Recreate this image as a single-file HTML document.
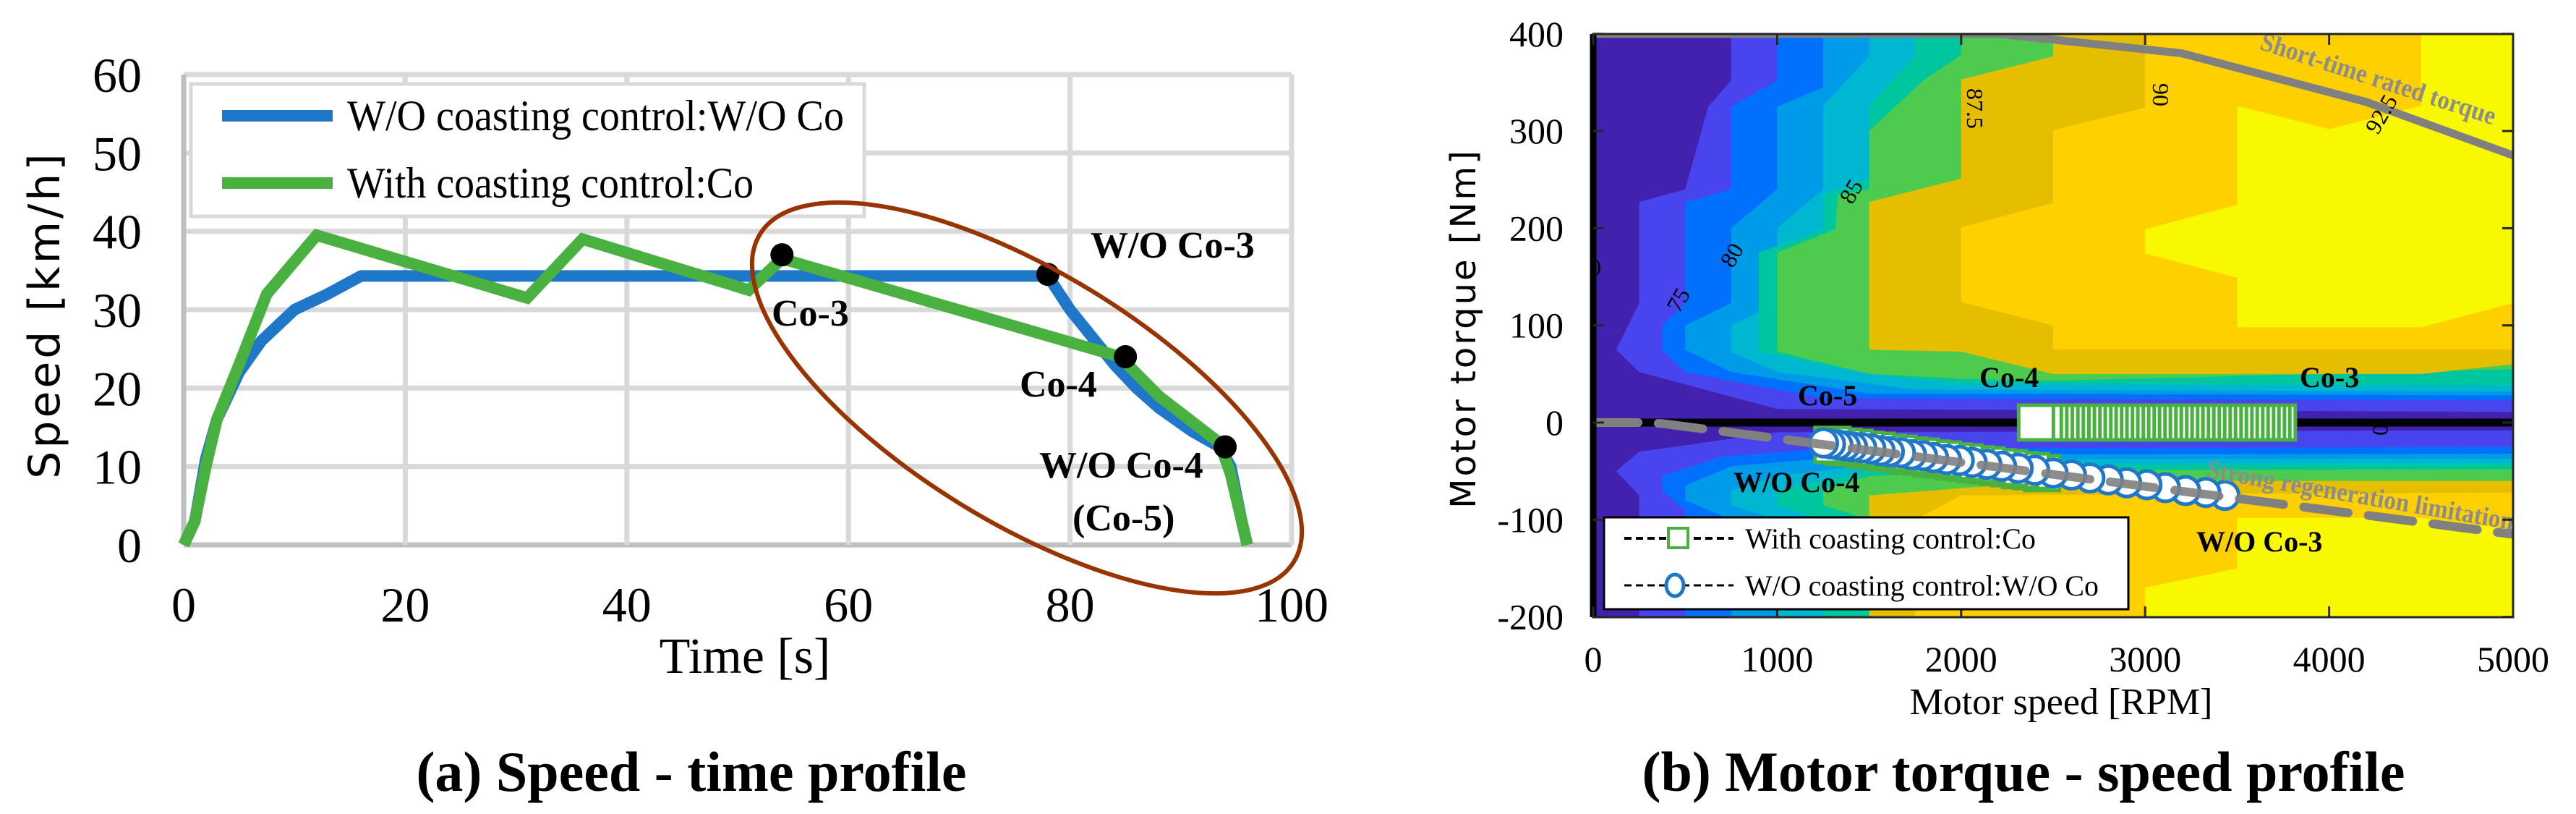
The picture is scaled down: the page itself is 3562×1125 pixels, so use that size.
<!DOCTYPE html>
<html><head><meta charset="utf-8"><style>
html,body{margin:0;padding:0;background:#fff;}
svg{display:block;}
</style></head><body>
<svg id="fig" xmlns="http://www.w3.org/2000/svg" width="3562" height="1125" viewBox="0 0 3562 1125">
<defs>
<clipPath id="clipR"><rect x="2203" y="47" width="1272" height="806"/></clipPath>
</defs>
<g id="left"></g>
<g id="right"></g>
</svg>
<script>
// ===== Left chart data =====
const timeTicks = [0,20,40,60,80,100];
const speedTicks = [0,10,20,30,40,50,60];
const woTime  = [0,1,2,3,5,7,10,13,16,78,80,82,84,86,88,91,93.5,94.5,95.5,96];
const woSpeed = [0,3,11,16,22,26,30,32,34.3,34.3,30,26.5,23,20,17.5,14.5,12.5,10,3,0];
const coTime  = [0,1,2,3,5,7.5,12,31,36,51,54,84.5,88,93.5,94.5,96];
const coSpeed = [0,3,10,16,23,32,39.5,31.5,39,32.5,36.5,24,19,13,9,0];
const dotTime  = [54,78,85,94];
const dotSpeed = [37,34.5,24,12.5];

// ===== Right chart data =====
const rpmTicks = [0,1000,2000,3000,4000,5000];
const nmTicks = [-200,-100,0,100,200,300,400];
const levelColors = ["#4845EE","#0070FD","#009BE8","#00B7D1","#00C6A0","#4CCB4E","#E6BE00","#FFD000","#F8F800"];
const posLevels = [
 [[750,400],[750,352],[625,325],[500,240],[250,227],[250,123],[125,75],[250,52],[1000,14],[5000,11]],
 [[1000,400],[1000,352],[750,325],[750,240],[500,227],[500,123],[375,100],[375,75],[500,52],[1250,25],[5000,23]],
 [[1250,400],[1250,345],[1000,325],[1000,240],[750,200],[750,123],[500,100],[500,75],[750,52],[1500,30],[5000,28]],
 [[1500,400],[1500,377],[1250,326],[1250,240],[1000,200],[1000,123],[750,100],[750,73],[1000,52],[1750,34],[5000,32]],
 [[1750,400],[1750,377],[1500,326],[1500,251],[1250,234],[1250,199],[900,175],[900,73],[1500,50],[2000,40],[5000,38]],
 [[2000,400],[2000,378],[1800,353],[1500,300],[1500,240],[1330,234],[1316,199],[1000,175],[1000,73],[1500,50],[2000,45],[2500,43],[5000,55]],
 [[2500,400],[2500,377],[2000,353],[2000,251],[1500,227],[1500,75],[2000,73],[2500,50],[4500,50],[5000,60]],
 [[3000,400],[3000,324],[2500,301],[2500,226],[2000,201],[2000,124],[2500,100],[2500,75],[5000,75]],
 [[4500,400],[4500,326],[4000,302],[3500,326],[3500,224],[3000,199],[3000,174],[3500,149],[3500,98],[4500,98],[5000,123]]
];
const negLevels = [
 [[250,-200],[250,-75],[125,-50],[250,-30],[1000,-10],[5000,-8]],
 [[500,-200],[500,-90],[375,-70],[375,-55],[700,-35],[1250,-27],[5000,-25]],
 [[750,-200],[750,-100],[500,-80],[500,-65],[750,-45],[1500,-33],[5000,-32]],
 [[1000,-200],[1000,-100],[750,-85],[750,-70],[1000,-55],[1750,-38],[5000,-37]],
 [[1250,-200],[1250,-100],[1000,-85],[1000,-70],[1500,-50],[2000,-44],[5000,-42]],
 [[1500,-200],[1500,-100],[1250,-85],[1250,-70],[1500,-55],[2500,-49],[5000,-48]],
 [[1500,-200],[1500,-75],[2500,-60],[5000,-60]],
 [[1750,-200],[1750,-100],[2000,-75],[5000,-72]],
 [[3000,-200],[3000,-170],[3500,-150],[3500,-98],[4500,-98],[5000,-110]]
];
const ratedRpm = [0,2200,3200,4200,5000];
const ratedNm  = [400,400,380,330,275];
const regenRpm = [0,250,375,5000];
const regenNm  = [0,0,-1,-115];
const woRpm = [3434,3330,3220,3110,3010,2900,2800,2700,2600,2500,2400,2310,2220,2140,2060,1990,1920,1850,1790,1730,1670,1610,1560,1510,1460,1410,1370,1330,1290,1252];
const woNm  = [-75,-72,-70,-67,-64,-62,-59,-57,-54,-52,-49,-47,-45,-43,-41,-39,-38,-36,-34,-33,-31,-30,-29,-27,-26,-25,-24,-23,-22,-21];
const coRegenRpm = [2440,2380,2320,2260,2200,2140,2080,2020,1960,1900,1840,1780,1720,1660,1600,1540,1480,1420,1360,1300];
const coRegenNm  = [-52,-50,-49,-47,-46,-44,-43,-41,-40,-38,-37,-35,-34,-32,-31,-29,-28,-26,-25,-23];
const coZeroRpm = [3722,3692,3663,3633,3604,3574,3545,3515,3486,3456,3427,3397,3368,3338,3309,3279,3250,3220,3191,3161,3132,3102,3073,3043,3014,2984,2955,2925,2896,2866,2837,2807,2778,2748,2719,2689,2660,2630,2600,2570,2540,2510,2480,2450,2407];
const coZeroNm  = [0,0,0,0,0,0,0,0,0,0,0,0,0,0,0,0,0,0,0,0,0,0,0,0,0,0,0,0,0,0,0,0,0,0,0,0,0,0,0,0,0,0,0,0,0];

const NS="http://www.w3.org/2000/svg";
function mk(parent,tag,attrs,text){const e=document.createElementNS(NS,tag);for(const k in attrs)e.setAttribute(k,attrs[k]);if(text!==undefined)e.textContent=text;parent.appendChild(e);return e;}

// ===== LEFT =====
const L=document.getElementById('left');
const sx=t=>254+t*15.32, sy=v=>753-v*10.833;
for(const v of speedTicks){
  const g=mk(L,'line',{x1:sx(0),x2:sx(100),y1:sy(v),y2:sy(v),stroke:v===0?'#bfbfbf':'#d9d9d9','stroke-width':7});
  
  
  const t=mk(L,'text',{x:196,y:sy(v)+24,'text-anchor':'end','font-family':'Liberation Serif, serif','font-size':68},String(v));
  
  
}
for(const t0 of timeTicks){
  const g=mk(L,'line',{x1:sx(t0),x2:sx(t0),y1:sy(60),y2:sy(0),stroke:t0===0?'#bfbfbf':'#d9d9d9','stroke-width':7});
  
  
  const t=mk(L,'text',{x:sx(t0),y:859,'text-anchor':'middle','font-family':'Liberation Serif, serif','font-size':68},String(t0));
  
  
}
const xt=mk(L,'text',{x:1030,y:930,'text-anchor':'middle','font-family':'Liberation Serif, serif','font-size':70},'Time  [s]');


const yt=mk(L,'text',{x:0,y:0,transform:'translate(82,435) rotate(-90)','text-anchor':'middle','font-family':'DejaVu Sans, sans-serif','font-size':60,'letter-spacing':4},'Speed  [km/h]');


// legend
const lg=mk(L,'g',{});


mk(lg,'rect',{x:264,y:116,width:931,height:183,fill:'#fff',stroke:'#d9d9d9','stroke-width':5});
mk(lg,'line',{x1:307,x2:460,y1:160,y2:160,stroke:'#1F77C9','stroke-width':16});
mk(lg,'text',{x:480,y:180,'font-family':'Liberation Serif, serif','font-size':60,textLength:687,lengthAdjust:'spacingAndGlyphs'},'W/O coasting control:W/O Co');
mk(lg,'line',{x1:307,x2:460,y1:253,y2:253,stroke:'#48B13F','stroke-width':16});
mk(lg,'text',{x:480,y:273,'font-family':'Liberation Serif, serif','font-size':60,textLength:562,lengthAdjust:'spacingAndGlyphs'},'With coasting control:Co');
// series
const woPts=woTime.map((t,i)=>sx(t)+','+sy(woSpeed[i])).join(' ');
const wl=mk(L,'polyline',{points:woPts,fill:'none',stroke:'#1F77C9','stroke-width':16,'stroke-linejoin':'round'});


const coPts=coTime.map((t,i)=>sx(t)+','+sy(coSpeed[i])).join(' ');
const cl=mk(L,'polyline',{points:coPts,fill:'none',stroke:'#48B13F','stroke-width':16,'stroke-linejoin':'miter'});


dotTime.forEach((t,i)=>{
  const d=mk(L,'circle',{cx:sx(t),cy:sy(dotSpeed[i]),r:16,fill:'#000'});
  
  
});
const el=mk(L,'ellipse',{cx:1420,cy:550,rx:433,ry:173,transform:'rotate(31.5 1420 550)',fill:'none',stroke:'#993300','stroke-width':6});


const annL=[['W/O Co-3',1508,356],['Co-3',1067,450],['Co-4',1410,548],['W/O Co-4',1437,660],['(Co-5)',1483,733]];
annL.forEach(a=>{
  const t=mk(L,'text',{x:a[1],y:a[2],'font-family':'Liberation Serif, serif','font-weight':'bold','font-size':52},a[0]);
  
  
});
const capA=mk(L,'text',{x:956,y:1093,'text-anchor':'middle','font-family':'Liberation Serif, serif','font-weight':'bold','font-size':78},'(a) Speed - time profile');



// ===== RIGHT =====
const R=document.getElementById('right');
const rx=r=>2203+r*0.2544, ry=n=>584-n*1.343;
const plot=mk(R,'g',{'clip-path':'url(#clipR)'});


mk(plot,'rect',{x:2203,y:47,width:1272,height:806,fill:'#4321AF'});
function poly(arr,edge){
  const pts=arr.map(p=>[rx(p[0]),ry(p[1])]);
  pts.push([rx(5000),ry(edge)]);
  return pts.map(p=>p[0].toFixed(1)+','+p[1].toFixed(1)).join(' ');
}
for(let k=0;k<levelColors.length;k++){
  const p=mk(plot,'polygon',{points:poly(posLevels[k],400),fill:levelColors[k]});
  
  
  const q=mk(plot,'polygon',{points:poly(negLevels[k],-200),fill:levelColors[k]});
  
  
}
const zl=mk(plot,'line',{x1:rx(240),x2:rx(5000),y1:ry(0),y2:ry(0),stroke:'#000','stroke-width':11});


const rl=mk(plot,'polyline',{points:ratedRpm.map((r,i)=>rx(r)+','+ry(ratedNm[i])).join(' '),fill:'none',stroke:'#808080','stroke-width':11});


// contour labels
const clab=[['75',2330,420,-60],['80',2404,358,-60],['85',2569,270,-60],['87.5',2720,150,90],['90',2977,131,90],['92.5',3302,163,-60],['0',3281,594,90],['0',2206,380,0]];
clab.forEach(c=>{
  const t=mk(plot,'text',{x:0,y:0,transform:`translate(${c[1]},${c[2]}) rotate(${c[3]})`,'text-anchor':'middle','font-family':'Liberation Serif, serif','font-size':32},c[0]);
  
  
});
const sq=48;
coRegenRpm.forEach((r,i)=>{
  const s=mk(plot,'rect',{x:rx(r)-sq/2,y:ry(coRegenNm[i])-sq/2,width:sq,height:sq,fill:'#fff',stroke:'#48B13F','stroke-width':5});
  
  
});
const regl=mk(plot,'polyline',{points:regenRpm.map((r,i)=>rx(r)+','+ry(regenNm[i])).join(' '),fill:'none',stroke:'#808080','stroke-width':12,'stroke-dasharray':'62 28','stroke-linecap':'round'});


woRpm.forEach((r,i)=>{
  const c=mk(plot,'circle',{cx:rx(r),cy:ry(woNm[i]),r:19,fill:'#fff',stroke:'#1F77C9','stroke-width':5});
  
  
});
const regl2=mk(plot,'polyline',{points:regenRpm.map((r,i)=>rx(r)+','+ry(regenNm[i])).join(' '),fill:'none',stroke:'#808080','stroke-width':12,'stroke-dasharray':'62 28','stroke-linecap':'round','stroke-opacity':0.9});


coZeroRpm.forEach((r,i)=>{
  const s=mk(plot,'rect',{x:rx(r)-sq/2,y:ry(coZeroNm[i])-sq/2,width:sq,height:sq,fill:'#fff',stroke:'#48B13F','stroke-width':5});
  
  
});
// gray labels
const g1=mk(plot,'text',{x:0,y:0,transform:'translate(3285,120) rotate(18)','text-anchor':'middle','font-family':'Liberation Serif, serif','font-weight':'bold','font-size':36,fill:'#8c8c8c',textLength:340,lengthAdjust:'spacingAndGlyphs'},'Short-time rated torque');


const g2=mk(plot,'text',{x:0,y:0,transform:'translate(3262,696) rotate(9.7)','text-anchor':'middle','font-family':'Liberation Serif, serif','font-weight':'bold','font-size':36,fill:'#8c8c8c',textLength:430,lengthAdjust:'spacingAndGlyphs'},'Strong regeneration limitation');


// frame, ticks
mk(R,'rect',{x:2203,y:47,width:1272,height:806,fill:'none',stroke:'#262626','stroke-width':3});
const la=mk(R,'line',{x1:2203,x2:2203,y1:47,y2:853,stroke:'#000','stroke-width':9});


rpmTicks.forEach(r=>{
  mk(R,'line',{x1:rx(r),x2:rx(r),y1:853,y2:838,stroke:'#262626','stroke-width':3});
  mk(R,'line',{x1:rx(r),x2:rx(r),y1:47,y2:62,stroke:'#262626','stroke-width':3});
  const t=mk(R,'text',{x:rx(r),y:928,'text-anchor':'middle','font-family':'Liberation Serif, serif','font-size':50},String(r));
  
  
});
nmTicks.forEach(n=>{
  mk(R,'line',{x1:3475,x2:3460,y1:ry(n),y2:ry(n),stroke:'#262626','stroke-width':3});
  mk(R,'line',{x1:2203,x2:2218,y1:ry(n),y2:ry(n),stroke:'#262626','stroke-width':3});
  const t=mk(R,'text',{x:2162,y:ry(n)+17,'text-anchor':'end','font-family':'Liberation Serif, serif','font-size':50},String(n));
  
  
});
const rxt=mk(R,'text',{x:2850,y:987,'text-anchor':'middle','font-family':'Liberation Serif, serif','font-size':52},'Motor speed  [RPM]');


const ryt=mk(R,'text',{x:0,y:0,transform:'translate(2040,454) rotate(-90)','text-anchor':'middle','font-family':'DejaVu Sans, sans-serif','font-size':48,'letter-spacing':3},'Motor  torque  [Nm]');


const annR=[['Co-5',2486,560],['Co-4',2737,535],['Co-3',3180,535],['W/O Co-4',2397,680],['W/O Co-3',3037,762]];
annR.forEach(a=>{
  const t=mk(R,'text',{x:a[1],y:a[2],'font-family':'Liberation Serif, serif','font-weight':'bold','font-size':40},a[0]);
  
  
});
// legend
const lr=mk(R,'g',{});


mk(lr,'rect',{x:2218,y:715,width:725,height:127,fill:'#fff',stroke:'#000','stroke-width':3});
mk(lr,'line',{x1:2246,x2:2397,y1:744,y2:744,stroke:'#000','stroke-width':4,'stroke-dasharray':'10 6'});
mk(lr,'rect',{x:2307,y:730,width:27,height:27,fill:'#fff',stroke:'#48B13F','stroke-width':4});
mk(lr,'text',{x:2413,y:758,'font-family':'Liberation Serif, serif','font-size':40,textLength:402,lengthAdjust:'spacingAndGlyphs'},'With coasting control:Co');
mk(lr,'line',{x1:2246,x2:2397,y1:809,y2:809,stroke:'#000','stroke-width':3,'stroke-dasharray':'10 6'});
mk(lr,'ellipse',{cx:2316,cy:809,rx:12,ry:15,fill:'#fff',stroke:'#1F77C9','stroke-width':5});
mk(lr,'text',{x:2413,y:823,'font-family':'Liberation Serif, serif','font-size':40,textLength:489,lengthAdjust:'spacingAndGlyphs'},'W/O coasting control:W/O Co');
const capB=mk(R,'text',{x:2798,y:1093,'text-anchor':'middle','font-family':'Liberation Serif, serif','font-weight':'bold','font-size':78},'(b) Motor torque - speed profile');


</script>
</body></html>
